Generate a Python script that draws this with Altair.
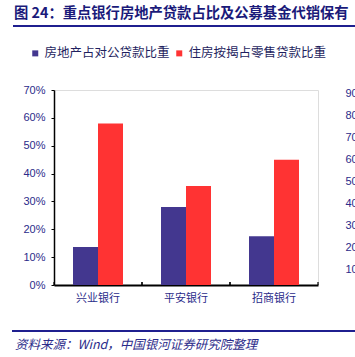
import altair as alt
import pandas as pd

banks = ["兴业银行", "平安银行", "招商银行"]
series_names = ["房地产占对公贷款比重", "住房按揭占零售贷款比重"]
re_corp_share = [0.136, 0.28, 0.175]
mortgage_share = [0.58, 0.355, 0.45]
colors = ["#43378F", "#FF3333"]
left_ticks = [0, 0.1, 0.2, 0.3, 0.4, 0.5, 0.6, 0.7]
right_ticks = [10, 20, 30, 40, 50, 60, 70, 80, 90]

title_text = "图 24：重点银行房地产贷款占比及公募基金代销保有"
source_text = "资料来源：Wind，中国银河证券研究院整理"

rows = []
for i, b in enumerate(banks):
    rows.append({"bank": b, "series": series_names[0], "value": re_corp_share[i]})
    rows.append({"bank": b, "series": series_names[1], "value": mortgage_share[i]})
df = pd.DataFrame(rows)

NAVY = "#2B2B8A"
CJK = "Noto Sans CJK SC"

x_enc = alt.X("bank:N", sort=banks, title=None,
              scale=alt.Scale(paddingInner=0, paddingOuter=0),
              axis=alt.Axis(labelAngle=0, labelFont=CJK, labelFontSize=11,
                            labelColor=NAVY, labelPadding=7, ticks=False,
                            domainColor="#000000", domainWidth=2))

bars = alt.Chart(df).mark_bar(stroke=None).encode(
    x=x_enc,
    xOffset=alt.XOffset("series:N", sort=series_names,
                        scale=alt.Scale(paddingOuter=0.76, paddingInner=0)),
    y=alt.Y("value:Q", title=None,
            scale=alt.Scale(domain=[0, 0.7], nice=False),
            axis=alt.Axis(values=left_ticks, format=".0%", grid=False,
                          labelFont="Liberation Sans", labelFontSize=11,
                          labelColor=NAVY, labelPadding=6, tickSize=3,
                          tickColor="#000000", domainColor="#000000",
                          domainWidth=1.5)),
    color=alt.Color("series:N", sort=series_names,
                    scale=alt.Scale(domain=series_names, range=colors),
                    legend=alt.Legend(title=None, orient="none", direction="horizontal",
                                      legendX=-25, legendY=-43, symbolType="square",
                                      symbolSize=36, symbolStrokeWidth=0,
                                      labelFont=CJK, labelFontSize=12.5,
                                      labelColor="#1F1F5F", columnPadding=3,
                                      labelOffset=3, padding=0)),
)

tick_df = pd.DataFrame({"bank": banks})
ticks_left = alt.Chart(tick_df).mark_rule(color="#000000", strokeWidth=1.2).encode(
    x=alt.X("bank:N", sort=banks, bandPosition=0),
    y=alt.value(192), y2=alt.value(195))
ticks_right = alt.Chart(tick_df).mark_rule(color="#000000", strokeWidth=1.2).encode(
    x=alt.X("bank:N", sort=banks, bandPosition=1),
    y=alt.value(192), y2=alt.value(195))

right_df = pd.DataFrame({"v": right_ticks})
right_axis = alt.Chart(right_df).mark_point(opacity=0).encode(
    y=alt.Y("v:Q", title=None,
            scale=alt.Scale(domain=[3.17, 91.4], nice=False, zero=False),
            axis=alt.Axis(orient="right", values=right_ticks, grid=False,
                          domain=False, ticks=False, labelAlign="left",
                          labelFont="Liberation Sans", labelFontSize=11,
                          labelColor=NAVY, labelPadding=27)))

title_mark = alt.Chart(pd.DataFrame({"t": [title_text]})).mark_text(
    align="left", baseline="middle", font=CJK, fontSize=14.3, fontWeight="bold",
    color="#1A1A7A", limit=0).encode(
    text="t:N", x=alt.value(-40), y=alt.value(-76))

title_rule = alt.Chart(pd.DataFrame({"a": [0]})).mark_rule(
    color="#1F1F8F", strokeWidth=2).encode(
    x=alt.value(-41), x2=alt.value(301), y=alt.value(-64))

source_rule = alt.Chart(pd.DataFrame({"a": [0]})).mark_rule(
    color="#1F1F8F", strokeWidth=2).encode(
    x=alt.value(-42), x2=alt.value(301), y=alt.value(241))

source_mark = alt.Chart(pd.DataFrame({"t": [source_text]})).mark_text(
    align="left", baseline="middle", font=CJK, fontSize=12.5, fontStyle="italic",
    color=NAVY).encode(
    text="t:N", x=alt.value(-39), y=alt.value(255))

chart = alt.layer(
    bars, ticks_left, ticks_right, right_axis,
    title_mark, title_rule, source_rule, source_mark
).resolve_scale(y="independent").properties(
    width=264, height=195,
    autosize=alt.AutoSizeParams(type="none"),
    padding={"left": 54, "top": 90, "right": 37, "bottom": 72},
).configure_view(stroke=None).configure(background="white")

chart.save("out.html", embed_options={"renderer": "svg", "actions": False})
